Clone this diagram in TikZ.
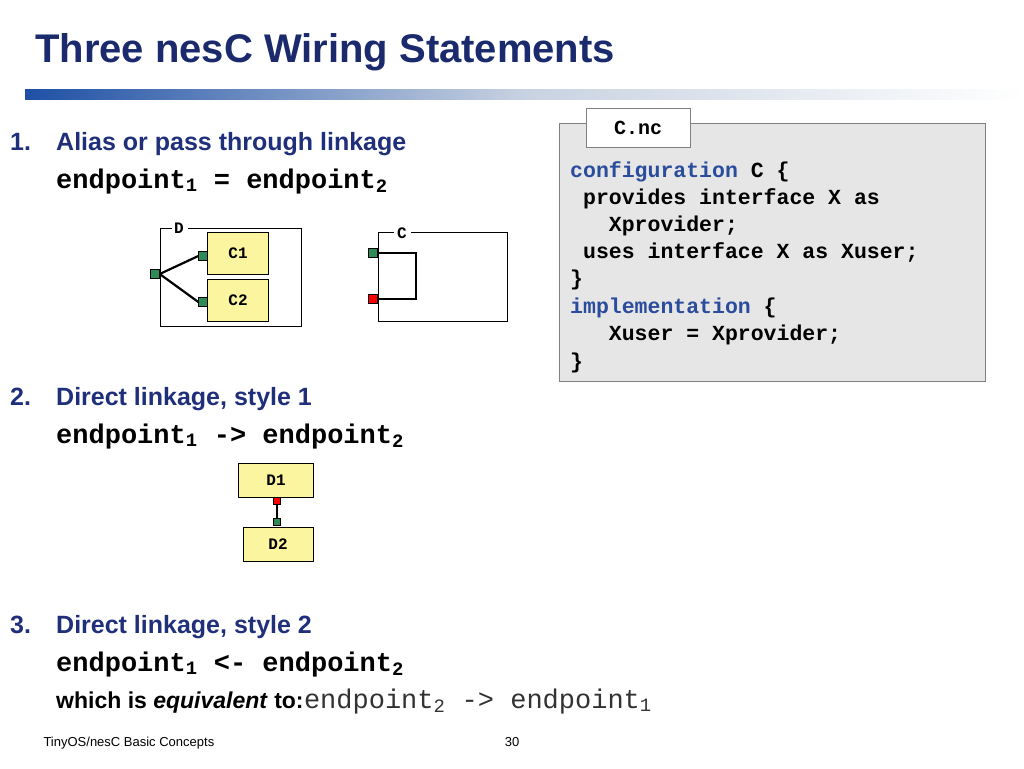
\documentclass[tikz,border=0pt]{standalone}
\usepackage{fontspec}
\setmainfont{Liberation Sans}
\setmonofont{Liberation Mono}
\usetikzlibrary{positioning}
\definecolor{titleblue}{HTML}{1A2A6C}
\definecolor{textblue}{HTML}{1F2F7A}
\definecolor{kwblue}{HTML}{2A4C9C}
\definecolor{portgreen}{HTML}{2E8B57}
\definecolor{compyellow}{HTML}{FAF59E}
\tikzset{
  comp/.style={draw, fill=compyellow, minimum width=61pt, minimum height=42pt, font=\fontsize{16}{16}\ttfamily\bfseries},
  port/.style={draw, fill=portgreen, minimum size=9pt, inner sep=0pt},
  redport/.style={draw, fill=red, minimum size=9pt, inner sep=0pt},
  wire/.style={line width=2.2pt},
  item/.style={anchor=base west, inner sep=0pt, text=textblue, font=\fontsize{25}{25}\selectfont\bfseries},
  code/.style={anchor=base west, inner sep=0pt, text=black, font=\fontsize{27}{27}\ttfamily\bfseries}
}
\begin{document}
\begin{tikzpicture}[x=1pt,y=-1pt]
	\useasboundingbox (0,0) rectangle (1024,768);
	\node [anchor=base west, inner sep=0pt, text=titleblue, font=\fontsize{40}{40}\selectfont\bfseries] (title) at (35,63) {Three nesC Wiring Statements};
	\shade [left color={rgb,255:red,30;green,80;blue,165}, right color=white, middle color={rgb,255:red,200;green,210;blue,225}] (25,89) rectangle (1024,99);
	% item 1
	\node [item] (n1) at (10,150) {1.};
	\node [item] (t1) at (56,150) {Alias or pass through linkage};
	\node [code] (e1) at (56,188) {endpoint\textsubscript{1} = endpoint\textsubscript{2}};
	% component D
	\draw (172,228) -- (160,228) -- (160,326) -- (301,326) -- (301,228) -- (188,228);
	\node [font=\fontsize{16}{16}\ttfamily\bfseries] (dlab) at (179,228) {D};
	\node [comp] (c1) at (238,253) {C1};
	\node [comp] (c2) at (238,300) {C2};
	\node [port] (p1) at (203,256) {};
	\node [port] (p2) at (203,302) {};
	\node [port] (pd) at (155,274) {};
	\draw [wire] (pd.east) -- (p1.west);
	\draw [wire] (pd.east) -- (p2.west);
	% component C
	\draw (394,232) -- (378,232) -- (378,321) -- (507,321) -- (507,232) -- (411,232);
	\node [font=\fontsize{16}{16}\ttfamily\bfseries] (clab) at (402,233) {C};
	\node [port] (pc1) at (373,253) {};
	\node [redport] (pc2) at (373,299) {};
	\draw [wire] (pc1.east) -| (416,299) -- (pc2.east);
	% code box
	\draw [fill={rgb,255:red,230;green,230;blue,230}, draw=gray] (559,123) rectangle (985,381);
	\node [draw=gray, fill=white, minimum width=104pt, minimum height=39pt, font=\fontsize{20}{20}\ttfamily\bfseries] (tab) at (638,128) {C.nc};
	\begin{scope}[every node/.style={code, font=\fontsize{21.5}{21.5}\ttfamily\bfseries}]
		\node (l1) at (570,177) {\textcolor{kwblue}{configuration} C \{};
		\node (l2) at (570,204) {~provides interface X as};
		\node (l3) at (570,231) {~~~Xprovider;};
		\node (l4) at (570,258) {~uses interface X as Xuser;};
		\node (l5) at (570,285) {\}};
		\node (l6) at (570,313) {\textcolor{kwblue}{implementation} \{};
		\node (l7) at (570,340) {~~~Xuser = Xprovider;};
		\node (l8) at (570,368) {\}};
	\end{scope}
	% item 2
	\node [item] (n2) at (10,405) {2.};
	\node [item] (t2) at (56,405) {Direct linkage, style 1};
	\node [code] (e2) at (56,443) {endpoint\textsubscript{1} -> endpoint\textsubscript{2}};
	\node [comp, minimum width=75pt, minimum height=34pt] (d1) at (276,480) {D1};
	\node [comp, minimum width=70pt, minimum height=34pt] (d2) at (278,544) {D2};
	\node [redport, minimum size=7pt] (pr) at (277,501) {};
	\node [port, minimum size=7pt] (pg) at (277,522) {};
	\draw [line width=1.4pt] (pr.south) -- (pg.north);
	% item 3
	\node [item] (n3) at (10,633) {3.};
	\node [item] (t3) at (56,633) {Direct linkage, style 2};
	\node [code] (e3) at (56,671) {endpoint\textsubscript{1} <- endpoint\textsubscript{2}};
	\node [anchor=base west, inner sep=0pt, font=\fontsize{23}{23}\selectfont\bfseries] (w3) at (56,708) {which is \textit{equivalent} to: };
	\node [anchor=base west, font=\fontsize{27}{27}\ttfamily, text={rgb,255:red,50;green,50;blue,50}, inner sep=0pt] (e4) at (w3.base east) {endpoint\textsubscript{2} -> endpoint\textsubscript{1}};
	% footer
	\node [anchor=base west, font=\fontsize{13}{13}\selectfont] (foot) at (40,746) {TinyOS/nesC Basic Concepts};
	\node [anchor=base, font=\fontsize{13}{13}\selectfont] (page) at (512,746) {30};
\end{tikzpicture}
\end{document}
